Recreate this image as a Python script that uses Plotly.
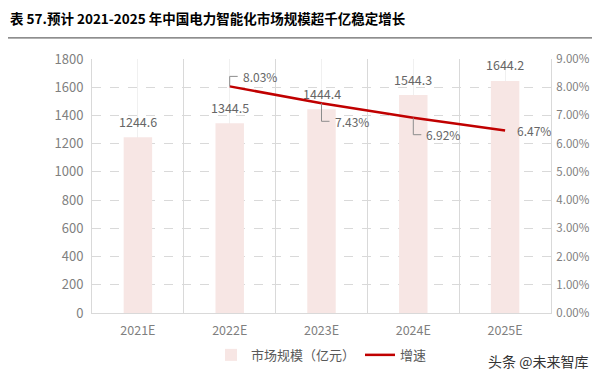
import plotly.graph_objects as go

categories = ["2021E", "2022E", "2023E", "2024E", "2025E"]
market_size = [1244.6, 1344.5, 1444.4, 1544.3, 1644.2]
growth_cats = ["2022E", "2023E", "2024E", "2025E"]
growth = [0.0803, 0.0743, 0.0692, 0.0647]
left_ticks = [0, 200, 400, 600, 800, 1000, 1200, 1400, 1600, 1800]
right_ticks = [0, 0.01, 0.02, 0.03, 0.04, 0.05, 0.06, 0.07, 0.08, 0.09]

FONT = "Noto Sans CJK SC, Noto Sans, sans-serif"
GRAY = "#7f7f7f"
xi = list(range(len(categories)))
gxi = [categories.index(c) for c in growth_cats]

fig = go.Figure()
fig.add_trace(go.Bar(
    x=xi, y=market_size, name="市场规模（亿元）", width=0.31,
    marker=dict(color="#f7e6e4", line=dict(width=0)),
))
fig.add_trace(go.Scatter(
    x=gxi, y=growth, name="增速", yaxis="y2", mode="lines",
    line=dict(color="#c00000", width=2.5),
))

# bar value labels
for i, v in zip(xi, market_size):
    fig.add_annotation(x=i, y=v, text=f"{v:.1f}", showarrow=False, yshift=16,
                       font=dict(family=FONT, size=12.5, color="#666666"))

# growth labels with elbow leader lines
offsets = [(30, 10, "up"), (30, -18, "down"), (30, -17, "down"), (29, 0, "none")]
for i, g, (dx, dy, kind) in zip(gxi, growth, offsets):
    fig.add_annotation(x=i, y=g, yref="y2", text=f"{g*100:.2f}%", showarrow=False,
                       xshift=dx, yshift=dy,
                       font=dict(family=FONT, size=12, color="#666666"))
    if kind != "none":
        fig.add_shape(type="path", xref="x", yref="y2", xsizemode="pixel", ysizemode="pixel",
                      xanchor=i, yanchor=g,
                      path=f"M0,0 V{dy} H8",
                      line=dict(color="#8c8c8c", width=1))

# title and rule
fig.add_annotation(xref="paper", yref="paper", x=-0.183, y=1.161, xanchor="left", yanchor="middle",
                   text="<b>表 57.预计 2021-2025 年中国电力智能化市场规模超千亿稳定增长</b>",
                   showarrow=False, font=dict(family=FONT, size=13.5, color="#000000"))
fig.add_shape(type="line", xref="paper", yref="paper", x0=-0.183, x1=1.107, y0=1.083, y1=1.083,
              line=dict(color="#404040", width=1))
# watermark
fig.add_annotation(xref="paper", yref="paper", x=1.085, y=-0.19, xanchor="right", yanchor="middle",
                   text="头条 @未来智库", showarrow=False,
                   font=dict(family=FONT, size=14, color="#333333"))

fig.update_layout(
    width=592, height=374,
    margin=dict(l=84, r=49, t=51, b=69, autoexpand=False),
    plot_bgcolor="white", paper_bgcolor="white",
    font=dict(family=FONT, color=GRAY, size=12),
    showlegend=True,
    legend=dict(orientation="h", x=0.5, xanchor="center", y=-0.165, yanchor="middle",
                font=dict(family=FONT, size=13, color="#595959"), itemwidth=30,
                bgcolor="rgba(0,0,0,0)"),
    xaxis=dict(
        range=[-0.5, 4.5], tickmode="array", tickvals=xi, ticktext=categories,
        showgrid=True, gridcolor="#f0f0f0", gridwidth=1, automargin=False,
        minor=dict(tickmode="linear", tick0=0.5, dtick=1, showgrid=True, gridcolor="#d9d9d9", gridwidth=1, ticks=""),
        showline=True, linecolor="#d9d9d9", linewidth=1, mirror=False,
        ticks="", tickfont=dict(size=12.5, color=GRAY), zeroline=False,
        ticklabelstandoff=6,
    ),
    yaxis=dict(
        range=[0, 1800], tickmode="array", tickvals=left_ticks, automargin=False,
        showgrid=True, gridcolor="#d9d9d9", griddash="dash", gridwidth=1,
        showline=True, linecolor="#d9d9d9", linewidth=1,
        ticks="", tickfont=dict(size=13, color=GRAY), zeroline=False,
        ticklabelstandoff=5,
    ),
    yaxis2=dict(
        range=[0, 0.09], overlaying="y", side="right", tickmode="array", tickvals=right_ticks,
        tickformat=".2%", showgrid=False, showline=True, linecolor="#d9d9d9", automargin=False,
        ticks="", tickfont=dict(size=11.5, color=GRAY), zeroline=False,
        ticklabelstandoff=2,
    ),
)

fig.write_html("out.html")
